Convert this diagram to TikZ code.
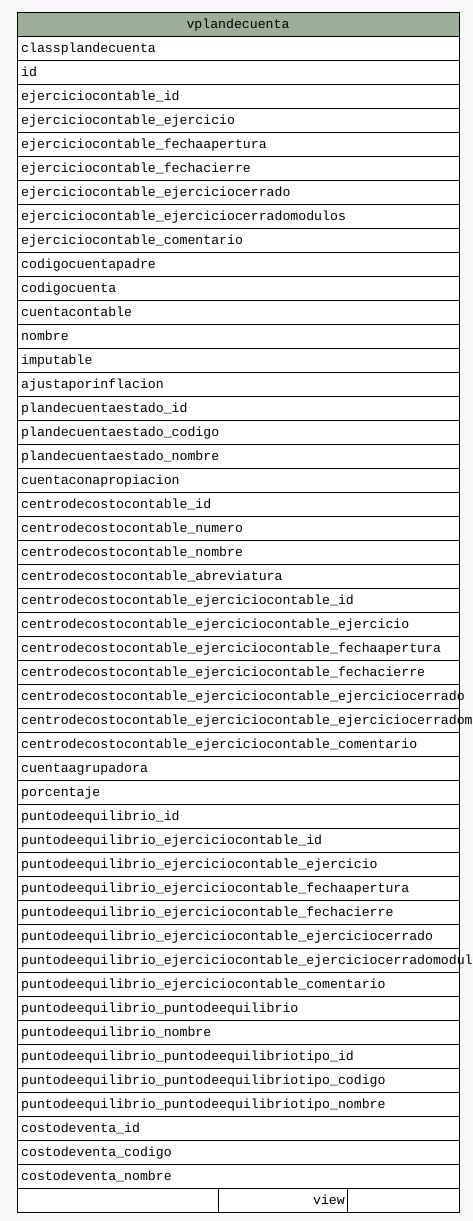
\documentclass[tikz,border=0pt]{standalone}
\usepackage{fontspec}
\setmonofont{Liberation Mono}
\usepackage{xcolor}
\usepackage{tikz}
\usetikzlibrary{positioning, calc}
\definecolor{headgreen}{RGB}{157, 174, 152}
\definecolor{pagegray}{RGB}{247, 247, 247}
\tikzset{
    rowbox/.style={
        draw=black, line width=1pt, fill=white, minimum width=442pt,
        minimum height=24pt, inner sep=0pt, outer sep=0pt, anchor=north west
    },
    headbox/.style={
        rowbox, fill=headgreen
    },
    rowtext/.style={
        font=\ttfamily\fontsize{13.2}{16}\selectfont, inner sep=0pt, anchor=base west
    }
}

\begin{document}
\begin{tikzpicture}[x=1pt, y=-1pt]

        % --- FONDO ---
        \fill[pagegray] (0,0) rectangle (473,1221);
        \useasboundingbox (0,0) rectangle (473,1221);

        % --- CABECERA ---
        \node[headbox] (head) at (17,12) {};
        \node[rowtext, anchor=base] (title) at ($(head.center)+(0,4)$) {vplandecuenta};

        % --- CAMPOS ---
        \foreach \field [count=\i] in {
            classplandecuenta, id, ejerciciocontable\_id,
            ejerciciocontable\_ejercicio, ejerciciocontable\_fechaapertura,
            ejerciciocontable\_fechacierre, ejerciciocontable\_ejerciciocerrado,
            ejerciciocontable\_ejerciciocerradomodulos, ejerciciocontable\_comentario,
            codigocuentapadre, codigocuenta, cuentacontable, nombre, imputable,
            ajustaporinflacion, plandecuentaestado\_id, plandecuentaestado\_codigo,
            plandecuentaestado\_nombre, cuentaconapropiacion, centrodecostocontable\_id,
            centrodecostocontable\_numero, centrodecostocontable\_nombre,
            centrodecostocontable\_abreviatura,
            centrodecostocontable\_ejerciciocontable\_id,
            centrodecostocontable\_ejerciciocontable\_ejercicio,
            centrodecostocontable\_ejerciciocontable\_fechaapertura,
            centrodecostocontable\_ejerciciocontable\_fechacierre,
            centrodecostocontable\_ejerciciocontable\_ejerciciocerrado,
            centrodecostocontable\_ejerciciocontable\_ejerciciocerradomodulos,
            centrodecostocontable\_ejerciciocontable\_comentario,
            cuentaagrupadora, porcentaje, puntodeequilibrio\_id,
            puntodeequilibrio\_ejerciciocontable\_id,
            puntodeequilibrio\_ejerciciocontable\_ejercicio,
            puntodeequilibrio\_ejerciciocontable\_fechaapertura,
            puntodeequilibrio\_ejerciciocontable\_fechacierre,
            puntodeequilibrio\_ejerciciocontable\_ejerciciocerrado,
            puntodeequilibrio\_ejerciciocontable\_ejerciciocerradomodulos,
            puntodeequilibrio\_ejerciciocontable\_comentario,
            puntodeequilibrio\_puntodeequilibrio, puntodeequilibrio\_nombre,
            puntodeequilibrio\_puntodeequilibriotipo\_id,
            puntodeequilibrio\_puntodeequilibriotipo\_codigo,
            puntodeequilibrio\_puntodeequilibriotipo\_nombre,
            costodeventa\_id, costodeventa\_codigo, costodeventa\_nombre}
        {
            \node[rowbox] (row\i) at (17,{12+24*\i}) {};
            \node[rowtext] (txt\i) at ($(row\i.west)+(4,4)$) {\field};
        }

        % --- PIE ---
        \node[rowbox, minimum width=201pt] (foot1) at (17,1188) {};
        \node[rowbox, minimum width=129pt, right=0pt of foot1] (foot2) {};
        \node[rowbox, minimum width=112pt, right=0pt of foot2] (foot3) {};
        \node[rowtext, anchor=base east] (kind) at ($(foot2.east)+(-2,4)$) {view};

    \end{tikzpicture}
\end{document}
